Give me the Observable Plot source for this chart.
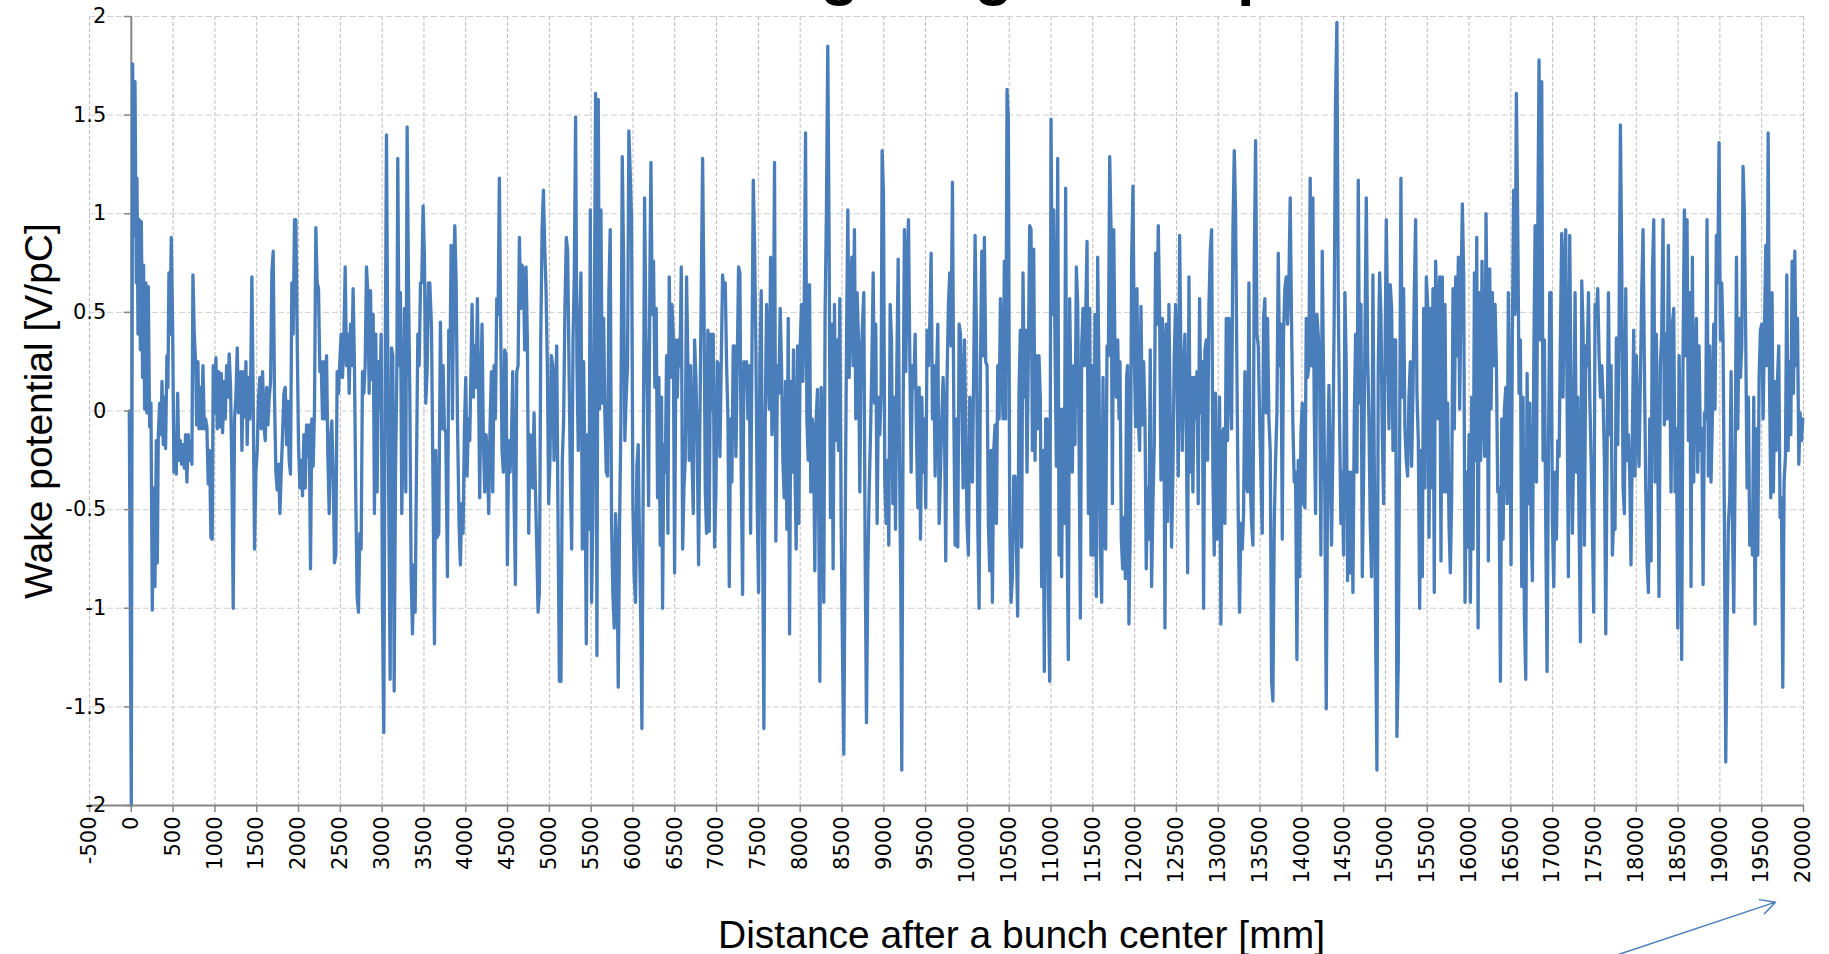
<!DOCTYPE html>
<html><head><meta charset="utf-8">
<script src="https://cdn.jsdelivr.net/npm/d3@7"></script>
<script src="https://cdn.jsdelivr.net/npm/@observablehq/plot@0.6"></script>
<style>
html,body{margin:0;padding:0;background:#fff;overflow:hidden;width:1829px;height:954px;}
#wrap{position:relative;width:1829px;height:954px;overflow:hidden;}
#chart{position:absolute;left:0;top:0;}
#title{position:absolute;left:705px;top:-60px;text-align:left;font-family:"Liberation Sans",Arial,sans-serif;font-weight:bold;font-size:63px;line-height:63px;color:#000;white-space:nowrap;}
</style></head>
<body><div id="wrap"><div id="chart"></div><div id="title">Long range wake potential</div></div>
<script>
// ---- tick values / labels ----
const xTicks = [-500,0,500,1000,1500,2000,2500,3000,3500,4000,4500,5000,5500,6000,6500,7000,7500,8000,8500,9000,9500,10000,10500,11000,11500,12000,12500,13000,13500,14000,14500,15000,15500,16000,16500,17000,17500,18000,18500,19000,19500,20000];
const yTicks = [-2,-1.5,-1,-0.5,0,0.5,1,1.5,2];
const xDomain = [-500, 20000];
const yDomain = [-2, 2];
const xTitle = "Distance after a bunch center [mm]";
const yTitle = "Wake potential [V/pC]";

// ---- series: [distance mm, wake V/pC] ----
const wakeSegment1 = [[-24,0],[0,-2],[16,1.76],[32,0.89],[44,1.67],[60,0.65],[68,1.18],[80,0.39],[96,0.97],[108,0.31],[120,0.96],[135,0.17],[147,0.74],[159,0.01],[175,0.65],[187,-0.01],[203,0.63],[219,-0.08],[235,0.04],[251,-1.01],[267,-0.39],[283,-0.89],[299,-0.15],[311,-0.77],[323,-0.12],[339,0.04],[355,-0.12],[367,0.15],[382,-0.17],[398,0.07],[410,-0.19],[426,0.28],[438,0.12],[450,0.70],[462,0.39],[478,0.88],[494,0.44],[510,-0.31],[526,-0.19],[538,-0.32],[554,0.09],[570,-0.25],[586,-0.15],[602,-0.27],[618,-0.17],[634,-0.29],[649,-0.12],[665,-0.36],[681,-0.12],[697,-0.25],[713,-0.16],[725,-0.27],[737,0.69],[753,0.39],[769,0.25],[781,-0.07],[797,0.25],[809,-0.09],[825,0.12],[841,-0.09],[857,0.23],[873,-0.09],[888,-0.04],[904,-0.08],[920,-0.37],[936,-0.2],[952,-0.64],[968,-0.65],[980,0.23],[996,-0.01],[1012,0.27],[1028,-0.09],[1044,0.2],[1060,-0.08],[1076,0.19],[1092,-0.11],[1108,0.15],[1124,-0.04],[1140,0.23],[1155,0.07],[1171,0.29],[1187,0.12],[1203,-0.31],[1219,-1.0],[1235,-0.04],[1251,0.07],[1267,0.32],[1283,-0.01],[1299,0.07],[1311,0.2],[1323,-0.2],[1339,0.2],[1355,-0.03],[1371,0.25],[1386,-0.17],[1402,0.17],[1418,-0.04],[1430,0.23],[1442,0.68],[1458,0.07],[1474,-0.7],[1490,-0.31],[1506,-0.2],[1522,0.07],[1538,0.17],[1554,-0.09],[1570,0.2],[1586,-0.07],[1602,-0.15],[1618,0.12],[1634,-0.07],[1650,0.07],[1666,0.15],[1681,0.70],[1697,0.81],[1713,0.07],[1729,-0.31],[1745,-0.4],[1761,-0.27],[1777,-0.52],[1793,-0.31],[1809,-0.12],[1825,0.09],[1841,0.12],[1857,-0.17],[1873,0.05],[1888,-0.25],[1904,-0.32],[1920,0.65],[1936,0.39],[1952,0.97],[1968,0.97],[1984,0.36],[2000,-0.17],[2016,-0.39],[2032,-0.25],[2048,-0.43],[2064,-0.12],[2080,-0.39],[2096,-0.07],[2112,-0.23],[2128,-0.07],[2143,-0.8],[2159,-0.04],[2175,-0.28],[2191,0.01],[2207,0.93],[2223,0.65],[2239,0.62],[2255,0.2],[2271,0.25],[2287,-0.04],[2303,0.25],[2319,-0.04],[2335,0.28],[2351,-0.23],[2367,-0.52],[2382,-0.15],[2398,-0.05],[2414,-0.31],[2430,-0.77],[2446,-0.73],[2462,0.2],[2478,0.09],[2494,0.25],[2510,0.39],[2526,0.17],[2542,0.36],[2558,0.73],[2574,0.23],[2590,0.39],[2606,0.09],[2622,0.44],[2637,0.23],[2653,0.62],[2669,0.23],[2685,-0.44],[2701,-0.94],[2717,-1.02],[2733,-0.62],[2749,-0.7],[2765,0.2],[2781,0.09],[2797,0.23],[2813,0.73],[2829,0.6],[2845,0.09],[2861,0.61],[2877,0.16],[2893,0.49],[2908,-0.52],[2924,0.39],[2940,-0.41],[2956,0.25],[2972,0.01],[2988,0.39],[3004,-1.0],[3020,-1.63],[3036,0.17],[3052,1.4],[3068,0.23],[3084,-0.73],[3096,-1.36],[3112,0.32],[3128,0.28],[3144,-1.42],[3160,-0.31],[3176,0.2],[3187,1.28],[3203,0.23],[3219,0.6],[3235,-0.52],[3251,-0.09],[3267,0.52],[3283,-0.41],[3299,1.44],[3315,0.65],[3331,0.09],[3347,-0.84],[3363,-1.13],[3379,-0.78],[3395,-1.02],[3411,-0.28],[3427,0.39],[3443,0.23],[3459,0.65],[3474,0.65],[3490,1.04],[3506,0.78],[3522,0.04],[3538,0.2],[3554,0.65]];

const wakeSegment2 = [[3570,0.65],[3590,0.43],[3610,-0.44],[3626,-1.18],[3641,-0.2],[3657,-0.64],[3677,-0.62],[3697,0.45],[3713,-0.09],[3729,0.23],[3745,-0.09],[3761,-0.11],[3781,-0.84],[3797,0.41],[3813,0.28],[3825,0.84],[3841,-0.04],[3857,0.70],[3869,0.94],[3885,0.65],[3901,-0.04],[3920,-0.57],[3936,-0.78],[3952,-0.47],[3968,-0.62],[3984,-0.09],[4000,0.17],[4016,-0.33],[4032,-0.04],[4048,-0.15],[4060,0.15],[4076,0.54],[4092,0.07],[4108,0.33],[4124,0.12],[4139,0.57],[4155,0.07],[4167,-0.44],[4183,0.17],[4195,0.44],[4211,-0.15],[4227,-0.41],[4243,-0.12],[4259,-0.23],[4275,-0.52],[4291,-0.07],[4307,0.2],[4323,-0.41],[4339,0.23],[4355,-0.04],[4371,0.57],[4387,0.49],[4402,1.18],[4418,0.44],[4434,-0.2],[4450,-0.31],[4466,0.31],[4482,0.28],[4498,-0.78],[4514,-0.15],[4530,-0.31],[4546,-0.16],[4562,0.2],[4578,-0.44],[4594,-0.88],[4610,0.2],[4626,0.23],[4642,0.88],[4658,0.52],[4674,0.74],[4690,0.70],[4705,0.31],[4721,0.73],[4737,0.36],[4753,-0.62],[4769,-0.12],[4785,-0.13],[4801,-0.39],[4817,-0.01],[4833,-0.39],[4849,-0.68],[4865,-1.02],[4881,-0.92],[4897,0.36],[4913,0.92],[4929,1.12],[4944,0.84],[4960,0.62],[4976,0.23],[4992,-0.47],[5008,-0.23],[5024,0.28],[5040,0.23],[5056,-0.25],[5072,0.07],[5088,0.33],[5104,-0.57],[5120,-1.37],[5139,-1.37],[5155,-0.25],[5171,-0.04],[5187,0.54],[5203,0.88],[5219,0.81],[5235,0.23],[5251,-0.33],[5267,-0.7],[5283,0.36],[5298,0.68],[5314,1.49],[5330,0.23],[5346,-0.2],[5362,0.44],[5378,0.70],[5394,-0.7],[5410,0.25],[5426,-0.31],[5442,-1.18],[5458,-0.12],[5474,-0.6],[5490,1.02],[5505,-0.97],[5521,-0.54],[5537,0.39],[5553,1.61],[5569,-1.24],[5585,1.58],[5601,0.01],[5617,1.02],[5633,0.04],[5649,0.47],[5665,-0.04],[5681,-0.31],[5696,-0.33],[5712,0.6],[5728,0.92],[5744,-0.57],[5760,-0.93],[5776,-1.1],[5792,-0.52],[5808,-0.7],[5824,-1.4],[5840,-0.57],[5856,-0.04],[5872,1.29],[5888,0.76],[5903,-0.15],[5919,0.07],[5935,0.23],[5951,1.42],[5967,1.21],[5983,0.97],[5999,-0.47],[6015,-0.84],[6031,-0.97],[6047,-0.28],[6063,-0.17],[6079,-0.7],[6095,-1.1],[6107,-1.61],[6123,-0.31],[6139,1.08],[6155,0.39],[6171,0.09],[6187,-0.48],[6203,0.73],[6215,1.26],[6230,0.49],[6246,0.76],[6262,0.12],[6278,0.52],[6294,-0.44],[6310,0.17],[6326,-0.68],[6342,0.07],[6354,-1.0],[6370,-0.17],[6386,-0.31],[6402,0.28],[6418,-0.62],[6434,0.68],[6450,0.17],[6466,0.54],[6482,0.39],[6498,-0.82],[6514,0.36],[6530,0.07],[6546,0.36],[6562,0.23],[6578,0.73],[6594,-0.7],[6610,-0.39],[6625,-0.25],[6641,0.68],[6657,0.23],[6673,-0.25],[6689,0.23],[6705,-0.2],[6721,-0.52],[6737,0.36],[6753,0.17],[6769,-0.17],[6785,-0.78],[6801,-0.04],[6817,0.62],[6833,1.28],[6849,0.57],[6865,-0.41],[6880,-0.62],[6896,0.41],[6912,-0.61],[6928,0.39],[6944,0.01],[6960,0.39],[6976,-0.69],[6992,-0.41],[7008,0.25],[7024,0.23],[7040,-0.23],[7056,0.25],[7072,0.69],[7088,0.6],[7104,0.65],[7120,0.23],[7136,-0.04],[7152,-0.89],[7168,-0.04],[7183,-0.36],[7199,0.33],[7215,0.33],[7231,-0.23],[7247,0.23],[7263,0.73],[7279,0.70],[7295,-0.31],[7311,-0.93],[7327,0.25],[7343,0.23],[7359,0.25],[7375,-0.04],[7391,0.23],[7407,-0.62],[7423,0.28],[7439,1.17],[7454,0.86],[7470,0.33],[7486,-0.47],[7502,-0.92],[7518,0.23],[7534,0.61],[7550,-0.62],[7566,-1.61],[7582,-0.04],[7598,0.54],[7614,0.23],[7630,0.01],[7646,0.78],[7662,-0.12],[7677,0.07],[7693,1.26],[7709,-0.66]];

const wakeSegment3 = [[7729,0.23],[7745,0.09],[7761,0.52],[7777,0.23],[7793,-0.25],[7809,-0.44],[7825,0.15],[7841,-0.6],[7857,0.47],[7873,-1.13],[7888,0.15],[7904,-0.31],[7920,0.31],[7936,-0.25],[7952,-0.7],[7968,0.33],[7984,-0.57],[8000,0.33],[8016,0.54],[8032,0.15],[8048,0.52],[8064,1.41],[8080,-0.04],[8096,-0.25],[8112,0.64],[8127,-0.41],[8143,-0.04],[8159,-0.09],[8175,-0.81],[8191,-0.04],[8207,0.11],[8223,-0.57],[8235,-1.37],[8251,0.12],[8267,-0.17],[8282,-0.97],[8298,0.49],[8314,1.02],[8330,1.85],[8346,0.86],[8362,-0.54],[8378,0.44],[8394,-0.8],[8410,0.54],[8426,-0.15],[8442,0.36],[8458,-0.2],[8474,0.57],[8490,-0.57],[8506,-1.22],[8522,-1.74],[8538,-0.62],[8554,0.36],[8570,1.02],[8586,0.17],[8602,0.6],[8618,0.78],[8633,0.23],[8649,0.92],[8665,-0.04],[8681,0.6],[8697,0.36],[8713,-0.41],[8729,0.25],[8745,0.44],[8761,0.6],[8777,-0.73],[8793,-1.58],[8809,-0.81],[8825,-0.41],[8841,-0.12],[8857,0.23],[8873,0.70],[8889,0.04],[8904,0.44],[8920,-0.57],[8936,0.07],[8952,-0.12],[8968,0.09],[8980,1.32],[8996,1.1],[9012,-0.36],[9028,-0.57],[9044,-0.25],[9060,-0.68],[9076,0.54],[9092,0.36],[9108,-0.47],[9124,0.07],[9140,-0.6],[9156,0.23],[9172,0.77],[9188,-0.25],[9203,-0.89],[9215,-1.82],[9231,-0.04],[9247,0.92],[9263,0.2],[9279,0.70],[9295,0.97],[9311,0.28],[9327,-0.31],[9343,0.23],[9359,0.12],[9375,0.39],[9391,-0.12],[9407,-0.49],[9423,0.12],[9439,-0.65],[9455,0.07],[9471,-0.31],[9487,-0.04],[9502,-0.49],[9518,0.41],[9534,0.23],[9550,0.44],[9566,0.8],[9582,-0.04],[9598,0.23],[9614,-0.33],[9630,0.17],[9646,0.44],[9662,-0.57],[9678,-0.31],[9694,-0.04],[9709,0.17],[9725,-0.04],[9741,-0.76],[9757,0.17],[9773,0.54],[9789,0.70],[9805,0.33],[9821,1.16],[9837,0.01],[9853,-0.68],[9869,-0.04],[9885,-0.69],[9901,0.44],[9917,0.39],[9933,0.07],[9949,-0.39],[9965,0.36],[9980,-0.09],[9996,-0.57],[10012,-0.73],[10028,0.07],[10044,0.01],[10060,-0.36],[10076,0.23],[10092,0.89],[10108,0.39],[10124,-0.57],[10140,-1.0],[10156,0.23],[10172,0.81],[10188,0.28],[10203,0.88],[10219,0.25],[10235,0.23],[10251,-0.57],[10267,-0.81],[10283,-0.2],[10299,-0.97],[10315,-0.2],[10331,-0.07],[10347,-0.57],[10363,0.23],[10379,-0.04],[10395,0.57],[10411,0.23],[10426,-0.04],[10442,0.76],[10458,-0.04],[10474,1.63],[10490,1.48],[10506,-0.57],[10522,-0.97],[10538,-0.84],[10554,-0.33],[10570,-0.33],[10586,-0.7],[10601,-1.04],[10617,0.09],[10633,0.41],[10649,-0.69],[10665,0.70],[10681,0.07],[10697,0.41],[10713,-0.31],[10729,0.28],[10745,0.94],[10761,0.92],[10777,-0.2],[10793,0.82],[10809,-0.25],[10824,0.28],[10840,-0.09],[10856,0.28],[10872,0.07],[10888,-0.89],[10904,-0.2],[10920,-1.32],[10936,-0.04],[10952,-0.04],[10968,-0.89],[10984,-1.37],[11000,1.48],[11016,0.49],[11032,1.02],[11048,0.33],[11064,-0.28],[11080,1.28],[11096,-0.73],[11111,0.01],[11127,-0.84],[11143,0.01],[11159,-0.57],[11175,1.13],[11191,-0.54],[11207,-1.26],[11223,0.57],[11239,0.07],[11255,-0.31],[11271,0.23],[11287,-0.17],[11303,0.73],[11319,0.54],[11335,-0.15],[11351,-1.05],[11367,0.33],[11383,0.52],[11399,0.23],[11415,0.49],[11431,0.86],[11447,-0.52],[11463,0.52],[11478,-0.73],[11494,0.23],[11510,-0.73],[11526,0.49],[11542,-0.94],[11558,0.78],[11574,0.17],[11590,-0.68],[11606,-0.97],[11622,0.17],[11638,-0.68],[11654,-0.7],[11670,0.33],[11686,0.28],[11702,1.29],[11718,0.92],[11734,-0.47],[11750,0.92],[11766,0.25],[11782,0.07],[11798,0.36],[11814,-0.04]];

const wakeSegment4 = [[11825,0.25],[11841,-0.65],[11857,-0.8],[11873,-0.54],[11889,-0.85],[11904,0.17],[11916,0.23],[11932,-1.08],[11948,-0.57],[11964,0.76],[11980,1.14],[11996,0.28],[12012,-0.08],[12028,0.62],[12044,-0.04],[12060,-0.2],[12076,0.53],[12092,-0.07],[12108,0.25],[12124,-0.04],[12139,-0.8],[12155,-0.39],[12171,-0.65],[12187,0.31],[12203,-0.89],[12219,-0.47],[12235,-0.17],[12251,0.8],[12267,0.44],[12283,0.94],[12299,0.49],[12315,-0.35],[12331,0.47],[12347,0.28],[12363,-1.1],[12378,0.44],[12394,-0.56],[12410,0.54],[12426,-0.04],[12442,-0.69],[12458,-0.31],[12474,0.28],[12490,0.54],[12506,0.23],[12522,-0.33],[12538,0.89],[12554,0.28],[12570,-0.2],[12586,0.23],[12602,0.39],[12618,-0.09],[12634,-0.82],[12650,0.68],[12665,-0.31],[12681,0.17],[12697,-0.41],[12713,0.17],[12729,-0.04],[12745,0.2],[12761,-0.47],[12777,0.57],[12793,-0.01],[12809,0.25],[12825,-1.0],[12841,0.31],[12857,0.36],[12873,-0.25],[12889,0.54],[12905,0.81],[12921,0.92],[12936,-0.31],[12952,-0.73],[12968,0.09],[12984,-0.65],[13000,-0.62],[13016,0.07],[13032,-1.08],[13048,-0.12],[13064,-0.09],[13080,-0.57],[13096,0.47],[13112,-0.15],[13128,0.47],[13144,0.23],[13160,-0.09],[13176,0.92],[13192,1.32],[13207,1.02],[13223,0.23],[13239,-0.52],[13255,-1.02],[13271,-0.57],[13287,-0.7],[13303,-0.52],[13319,0.2],[13335,-0.36],[13351,-0.41],[13367,0.65],[13383,-0.36],[13399,-0.57],[13415,-0.68],[13431,0.76],[13447,1.37],[13463,0.39],[13479,0.33],[13495,-0.04],[13510,-0.31],[13526,-0.62],[13542,0.47],[13558,0.57],[13574,-0.01],[13590,0.47],[13606,-0.04],[13622,-0.2],[13638,-1.37],[13654,-1.47],[13670,-0.57],[13686,-0.25],[13702,-0.01],[13718,0.8],[13734,0.23],[13750,0.44],[13766,-0.65],[13781,0.39],[13797,0.62],[13813,0.68],[13829,0.44],[13845,0.65],[13861,1.08],[13877,0.44],[13893,-0.07],[13909,-0.36],[13925,-0.31],[13941,-1.26],[13957,-0.25],[13973,-0.84],[13989,-0.12],[14005,0.04],[14021,-0.47],[14037,-0.49],[14053,0.47],[14068,0.17],[14084,0.23],[14100,1.18],[14116,0.23],[14132,1.08],[14148,0.01],[14164,-0.52],[14180,0.49],[14196,0.39],[14212,0.23],[14228,-0.73],[14244,0.81],[14260,0.17],[14276,-0.49],[14292,-1.51],[14308,-0.36],[14324,0.13],[14339,-0.25],[14355,-0.68],[14371,-0.2],[14387,0.49],[14403,1.58],[14419,1.97],[14435,0.6],[14451,-0.04],[14467,-0.57],[14483,-0.31],[14499,-0.73],[14515,0.6],[14531,0.23],[14547,-0.86],[14563,-0.31],[14579,-0.82],[14595,-0.31],[14611,-0.92],[14627,-0.04],[14643,0.39],[14659,-0.31],[14675,1.17],[14691,0.04],[14707,0.54],[14723,-0.84],[14739,-0.31],[14755,0.39],[14771,1.08],[14787,0.28],[14802,-0.04],[14818,-0.57],[14834,-0.84],[14850,0.69],[14866,-0.25],[14882,-1.1],[14898,-1.82],[14914,0.23],[14930,0.70],[14946,0.49],[14962,-0.12],[14978,-0.47],[14994,0.23],[15010,0.97],[15026,0.44],[15042,-0.09],[15058,0.64],[15074,0.52],[15090,-0.2],[15106,0.36],[15122,0.36],[15137,-1.65],[15153,-1.29],[15169,-0.2],[15185,1.18],[15201,0.07],[15217,0.62],[15233,-0.09],[15249,-0.25],[15265,-0.33],[15281,0.07],[15297,0.25],[15313,-0.28],[15329,0.09],[15345,0.6],[15361,0.97],[15377,0.09],[15393,-0.15],[15409,-1.0],[15425,-0.2],[15441,-0.84],[15457,0.52],[15473,-0.39],[15489,0.68],[15505,0.54],[15521,-0.64],[15537,0.52],[15553,-0.39],[15568,0.62],[15584,-0.92],[15600,0.76],[15616,0.49],[15632,-0.04],[15648,0.68],[15664,-0.76],[15680,0.68],[15696,-0.41],[15712,0.54],[15728,-0.41],[15744,0.04],[15760,-0.57],[15776,-0.82],[15792,-0.44],[15808,0.62],[15824,-0.09],[15840,0.68],[15856,0.28],[15872,0.78],[15888,0.01],[15904,0.6],[15920,1.05],[15936,0.68],[15952,-0.97],[15968,-0.31],[15984,-0.69]];

const wakeSegment5 = [[16000,-0.12],[16016,-0.97],[16032,0.07],[16048,-0.7],[16064,0.70],[16080,-0.25],[16092,0.88],[16108,-1.1],[16124,0.6],[16139,-0.25],[16155,0.76],[16171,0.01],[16187,-0.23],[16203,1.0],[16219,0.28],[16231,-0.76],[16247,0.72],[16263,0.01],[16279,0.6],[16295,0.23],[16311,0.54],[16327,0.23],[16343,-0.41],[16359,-0.39],[16375,-1.37],[16391,-0.04],[16407,-0.65],[16423,0.01],[16439,0.12],[16455,-0.47],[16470,0.6],[16486,0.01],[16502,-0.78],[16518,0.39],[16534,1.12],[16550,0.49],[16566,1.61],[16582,0.97],[16598,0.09],[16614,0.36],[16630,-0.89],[16646,0.07],[16662,-1.05],[16678,-1.36],[16694,0.19],[16710,-0.47],[16726,0.04],[16742,-0.57],[16758,-0.86],[16774,0.25],[16790,0.94],[16806,-0.36],[16822,0.89],[16837,1.78],[16853,0.36],[16869,1.67],[16885,-0.25],[16901,0.36],[16917,-0.57],[16933,-1.32],[16949,-0.25],[16965,0.6],[16981,0.6],[16997,-0.57],[17013,-0.89],[17029,-0.31],[17045,-0.65],[17061,-0.15],[17077,-0.23],[17093,0.39],[17108,0.9],[17124,0.07],[17140,0.70],[17156,0.92],[17172,0.09],[17188,-0.84],[17204,0.89],[17220,0.07],[17236,-0.62],[17252,-0.15],[17268,0.6],[17284,-0.31],[17300,0.07],[17316,-0.57],[17332,-1.17],[17348,0.66],[17364,0.41],[17380,-0.68],[17396,0.33],[17412,0.23],[17428,0.6],[17444,0.07],[17460,-0.25],[17475,-0.6],[17491,-1.02],[17507,0.54],[17523,0.49],[17539,0.62],[17555,0.28],[17571,0.07],[17587,0.23],[17603,0.07],[17619,-0.25],[17635,-1.13],[17651,-0.2],[17667,0.6],[17683,-0.12],[17699,0.23],[17714,-0.73],[17730,-0.54],[17746,-0.6],[17762,0.37],[17778,-0.17],[17794,0.39],[17810,1.45],[17826,0.76],[17842,-0.39],[17858,-0.52],[17874,0.62],[17890,-0.25],[17906,-0.12],[17921,-0.31],[17937,-0.78],[17953,-0.12],[17969,0.41],[17985,-0.33],[18001,0.28],[18017,-0.04],[18033,-0.28],[18049,0.15],[18065,0.6],[18081,0.92],[18097,0.23],[18113,-0.39],[18129,-0.76],[18145,-0.92],[18161,-0.04],[18177,-0.76],[18193,0.70],[18209,0.97],[18225,-0.36],[18240,0.39],[18256,-0.2],[18272,-0.94],[18288,0.23],[18304,0.39],[18320,0.97],[18336,-0.07],[18352,0.39],[18368,-0.04],[18384,0.84],[18400,0.23],[18416,-0.41],[18432,0.44],[18448,0.52],[18464,-0.41],[18480,-0.09],[18496,-1.1],[18512,0.28],[18528,-0.15],[18543,-1.26],[18559,0.28],[18575,1.02],[18591,0.28],[18607,0.97],[18623,-0.15],[18639,0.6],[18655,-0.89],[18671,0.78],[18687,-0.36],[18703,0.23],[18719,0.47],[18735,-0.31],[18751,0.33],[18767,-0.2],[18783,-0.09],[18799,-0.88],[18815,-0.01],[18831,-0.04],[18846,0.97],[18862,-0.33],[18878,0.33],[18894,-0.36],[18910,-0.04],[18926,0.44],[18942,0.01],[18958,0.89],[18974,0.65],[18990,1.36],[19006,0.36],[19022,0.65],[19038,0.36],[19054,-0.57],[19070,-1.78],[19086,-1.1],[19102,-0.57],[19118,-0.44],[19134,0.2],[19150,-0.57],[19166,-1.02],[19182,-0.31],[19198,0.78],[19214,-0.09],[19230,0.47],[19246,0.17],[19262,0.33],[19277,1.24],[19293,1.0],[19309,0.36],[19325,-0.39],[19341,0.07],[19357,-0.68],[19373,-0.52],[19389,-0.73],[19405,0.07],[19421,-1.08],[19437,-0.09],[19453,-0.73],[19469,0.17],[19485,0.41],[19501,0.44],[19517,-0.04],[19533,0.41],[19549,0.84],[19565,0.23],[19577,1.41],[19593,0.17],[19609,-0.44],[19624,0.6],[19640,-0.41],[19656,0.15],[19672,-0.2],[19688,0.15],[19704,0.33],[19720,-0.54],[19736,-0.44],[19752,-1.4],[19768,-0.36],[19784,-0.23],[19800,0.69],[19816,-0.2],[19832,0.25],[19848,-0.12],[19864,0.76],[19880,0.09],[19896,0.81],[19912,0.23],[19928,0.47],[19944,-0.27],[19960,-0.01],[19976,-0.15],[19992,-0.04]];

// annotation arrow (below the axis, bottom-right), in data units
const annotationArrow = [{x1: 17470, y1: -2.8, x2: 19665, y2: -2.49}];

const wakeData = [...wakeSegment1, ...wakeSegment2, ...wakeSegment3, ...wakeSegment4, ...wakeSegment5]
  .map(([distance, wake]) => ({distance, wake}));

const W = 1829, H = 954;
const M = {top: 16, right: 26, bottom: 149, left: 89};
const yAxisShift = (0 - xDomain[0]) / (xDomain[1] - xDomain[0]) * (W - M.left - M.right);
const fmt = d => String(d);

const chart = Plot.plot({
  width: W, height: H,
  marginTop: M.top, marginRight: M.right, marginBottom: M.bottom, marginLeft: M.left,
  style: {background: "#ffffff", color: "#000", fontFamily: "'DejaVu Sans', Verdana, sans-serif", fontSize: "21px", overflow: "visible"},
  x: {domain: xDomain, axis: null},
  y: {domain: yDomain, axis: null},
  marks: [
    Plot.gridX(xTicks, {stroke: "#bdbdbd", strokeOpacity: 1, strokeWidth: 1, strokeDasharray: "4,2"}),
    Plot.gridY(yTicks, {stroke: "#cfcfcf", strokeOpacity: 1, strokeWidth: 1, strokeDasharray: "6,3"}),
    Plot.ruleX([0], {stroke: "#868686", strokeWidth: 2}),
    Plot.line(wakeData, {x: "distance", y: "wake", stroke: "#4a7ebb", strokeWidth: 3.3, strokeLinejoin: "round"}),
    Plot.ruleY([yDomain[0]], {stroke: "#868686", strokeWidth: 2}),
    Plot.axisX(xTicks, {anchor: "bottom", tickSize: 7, tickPadding: 4, tickRotate: -90, textAnchor: "end", lineAnchor: "middle", tickFormat: fmt, stroke: "#868686", strokeWidth: 1.5, fill: "#000", fontSize: 21, label: null}),
    Plot.axisY(yTicks, {anchor: "left", dx: yAxisShift, tickSize: 7, tickPadding: 18, tickFormat: fmt, stroke: "#868686", strokeWidth: 1.5, fill: "#000", fontSize: 21, label: null}),
    Plot.text([xTitle], {text: d => d, frameAnchor: "bottom", dx: 75, dy: 142, textAnchor: "middle", lineAnchor: "bottom", fontFamily: "'Liberation Sans', Arial, sans-serif", fontSize: 39, fill: "#000"}),
    Plot.text([yTitle], {text: d => d, frameAnchor: "left", dx: -38, rotate: -90, textAnchor: "middle", lineAnchor: "bottom", fontFamily: "'Liberation Sans', Arial, sans-serif", fontSize: 39, fill: "#000"}),
    Plot.arrow(annotationArrow, {x1: "x1", y1: "y1", x2: "x2", y2: "y2", stroke: "#4a7ebb", strokeWidth: 1.5, headLength: 16, headAngle: 55})
  ]
});
document.getElementById("chart").appendChild(chart);
</script>
</body></html>
